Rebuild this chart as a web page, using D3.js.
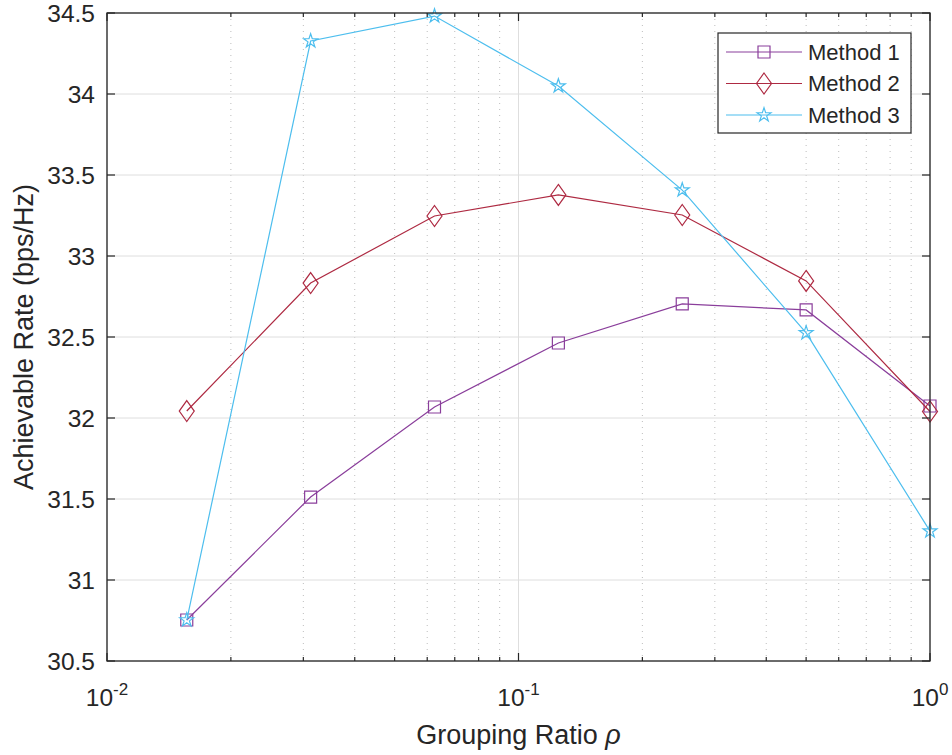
<!DOCTYPE html>
<html>
<head>
<meta charset="utf-8">
<script src="https://cdn.jsdelivr.net/npm/d3@7"></script>
<style>
  html, body { margin: 0; padding: 0; background: #fff; }
  svg { display: block; font-family: "Liberation Sans", Arial, Helvetica, sans-serif; }
</style>
</head>
<body>
<svg id="chart" width="952" height="755"></svg>
<script>
// Grouping ratios (1/64 ... 1)
const rho = [1/64, 1/32, 1/16, 1/8, 1/4, 1/2, 1];
const method1 = [30.753, 31.512, 32.068, 32.463, 32.704, 32.667, 32.074];
const method2 = [32.043, 32.833, 33.247, 33.377, 33.253, 32.846, 32.040];
const method3 = [30.753, 34.327, 34.481, 34.049, 33.407, 32.525, 31.302];

const seriesNames = ["Method 1", "Method 2", "Method 3"];
const seriesColors = ["#8A3E9B", "#AE2A42", "#4DBEEE"];
const seriesMarkers = ["square", "diamond", "star"];

const yTicks = [30.5, 31, 31.5, 32, 32.5, 33, 33.5, 34, 34.5];
const xMajorTicks = [0.01, 0.1, 1];
const xTickExponents = ["-2", "-1", "0"];

const axisColor = "#262626";
const svg = d3.select("#chart");

const plotL = 107, plotR = 930, plotT = 13, plotB = 661;
const x = d3.scaleLog().domain([0.01, 1]).range([plotL, plotR]);
const y = d3.scaleLinear().domain([30.5, 34.5]).range([plotB, plotT]);

// minor log ticks 2..9 in each decade
const xMinor = [];
for (const d of [0.01, 0.1]) for (let k = 2; k <= 9; k++) xMinor.push(d * k);

// grid
const grid = svg.append("g");
grid.selectAll(".gx-minor").data(xMinor).join("line")
  .attr("x1", d => x(d)).attr("x2", d => x(d))
  .attr("y1", plotT).attr("y2", plotB)
  .attr("stroke", "#bdbdbd").attr("stroke-width", 1)
  .attr("stroke-dasharray", "1,5");
grid.selectAll(".gx").data(xMajorTicks).join("line")
  .attr("x1", d => x(d)).attr("x2", d => x(d))
  .attr("y1", plotT).attr("y2", plotB)
  .attr("stroke", "#dedede").attr("stroke-width", 1);
grid.selectAll(".gy").data(yTicks).join("line")
  .attr("x1", plotL).attr("x2", plotR)
  .attr("y1", d => y(d)).attr("y2", d => y(d))
  .attr("stroke", "#dedede").attr("stroke-width", 1);

// marker shapes
function markerPath(kind) {
  if (kind === "square") return "M-6,-6H6V6H-6Z";
  if (kind === "diamond") return "M0,-10.5L7.5,0L0,10.5L-7.5,0Z";
  return d3.symbol(d3.symbolStar, 60)();
}

const allSeries = [method1, method2, method3];
const line = d3.line().x((d, i) => x(rho[i])).y(d => y(d));

allSeries.forEach((vals, s) => {
  const g = svg.append("g");
  g.append("path").datum(vals)
    .attr("d", line)
    .attr("fill", "none")
    .attr("stroke", seriesColors[s])
    .attr("stroke-width", 1.2);
  g.selectAll("path.m").data(vals).join("path")
    .attr("class", "m")
    .attr("transform", (d, i) => `translate(${x(rho[i])},${y(d)})`)
    .attr("d", markerPath(seriesMarkers[s]))
    .attr("fill", "none")
    .attr("stroke", seriesColors[s])
    .attr("stroke-width", 1.2);
});

// axes box
const axes = svg.append("g");
axes.append("rect")
  .attr("x", plotL).attr("y", plotT)
  .attr("width", plotR - plotL).attr("height", plotB - plotT)
  .attr("fill", "none").attr("stroke", axisColor).attr("stroke-width", 1.3);

// y ticks (left and right, inward)
yTicks.forEach(v => {
  axes.append("line").attr("x1", plotL).attr("x2", plotL + 8)
    .attr("y1", y(v)).attr("y2", y(v)).attr("stroke", axisColor).attr("stroke-width", 1.2);
  axes.append("line").attr("x1", plotR).attr("x2", plotR - 8)
    .attr("y1", y(v)).attr("y2", y(v)).attr("stroke", axisColor).attr("stroke-width", 1.2);
});
axes.selectAll(".yl").data(yTicks).join("text")
  .attr("x", plotL - 12).attr("y", d => y(d))
  .attr("text-anchor", "end").attr("dominant-baseline", "central")
  .attr("font-size", 24.5).attr("fill", axisColor)
  .text(d => d3.format("")(d));

// x ticks (bottom and top, inward)
xMajorTicks.forEach(v => {
  axes.append("line").attr("x1", x(v)).attr("x2", x(v))
    .attr("y1", plotB).attr("y2", plotB - 8).attr("stroke", axisColor).attr("stroke-width", 1.2);
  axes.append("line").attr("x1", x(v)).attr("x2", x(v))
    .attr("y1", plotT).attr("y2", plotT + 8).attr("stroke", axisColor).attr("stroke-width", 1.2);
});
xMinor.forEach(v => {
  axes.append("line").attr("x1", x(v)).attr("x2", x(v))
    .attr("y1", plotB).attr("y2", plotB - 4).attr("stroke", axisColor).attr("stroke-width", 1.2);
  axes.append("line").attr("x1", x(v)).attr("x2", x(v))
    .attr("y1", plotT).attr("y2", plotT + 4).attr("stroke", axisColor).attr("stroke-width", 1.2);
});
xMajorTicks.forEach((v, i) => {
  const t = axes.append("text")
    .attr("x", x(v)).attr("y", 706)
    .attr("text-anchor", "middle")
    .attr("font-size", 24.5).attr("fill", axisColor);
  t.append("tspan").text("10");
  t.append("tspan").attr("dy", -11).attr("font-size", 17).text(xTickExponents[i]);
});

// axis titles
const xt = svg.append("text")
  .attr("x", (plotL + plotR) / 2).attr("y", 744)
  .attr("text-anchor", "middle").attr("font-size", 27).attr("fill", axisColor);
xt.append("tspan").text("Grouping Ratio ");
xt.append("tspan").attr("font-style", "italic").text("ρ");

svg.append("text")
  .attr("transform", `translate(33,${(plotT + plotB) / 2}) rotate(-90)`)
  .attr("text-anchor", "middle").attr("font-size", 27).attr("fill", axisColor)
  .text("Achievable Rate (bps/Hz)");

// legend
const lg = svg.append("g");
lg.append("rect").attr("x", 718).attr("y", 33).attr("width", 193).attr("height", 100)
  .attr("fill", "#fff").attr("stroke", axisColor).attr("stroke-width", 1.2);
seriesNames.forEach((name, s) => {
  const cy = 52 + s * 31.5;
  lg.append("line").attr("x1", 726).attr("x2", 802).attr("y1", cy).attr("y2", cy)
    .attr("stroke", seriesColors[s]).attr("stroke-width", 1.2);
  lg.append("path").attr("transform", `translate(764,${cy})`)
    .attr("d", markerPath(seriesMarkers[s]))
    .attr("fill", "none").attr("stroke", seriesColors[s]).attr("stroke-width", 1.2);
  lg.append("text").attr("x", 808).attr("y", cy).attr("dominant-baseline", "central")
    .attr("font-size", 22).attr("fill", axisColor).text(name);
});
</script>
</body>
</html>
